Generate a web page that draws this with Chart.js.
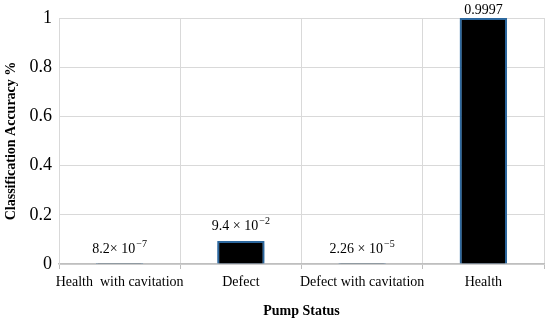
<!DOCTYPE html>
<html>
<head>
<meta charset="utf-8">
<script src="https://cdn.jsdelivr.net/npm/chart.js@4/dist/chart.umd.min.js"></script>
<style>
  html, body { margin: 0; padding: 0; background: #fff; }
  #wrap { width: 550px; height: 324px; }
</style>
</head>
<body>
<div id="wrap"><canvas id="chart"></canvas></div>
<script>
// data
const categories = ['Health  with cavitation', 'Defect', 'Defect with cavitation', 'Health'];
const accuracy = [8.2e-7, 0.094, 2.26e-5, 0.9997];
const labelBase = ['8.2\u00d7 10', '9.4 \u00d7 10', '2.26 \u00d7 10', '0.9997'];
const labelExp = ['\u22127', '\u22122', '\u22125', ''];
const yTicks = [0, 0.2, 0.4, 0.6, 0.8, 1];

const serif = '"Liberation Serif", "DejaVu Serif", serif';

// value labels with superscript exponent
const valueLabels = {
  id: 'valueLabels',
  afterDatasetsDraw(chart) {
    let ctx = chart.ctx;
    let meta = chart.getDatasetMeta(0);
    ctx.save();
    ctx.fillStyle = '#000';
    ctx.textBaseline = 'middle';
    meta.data.forEach((bar, i) => {
      let base = labelBase[i], exp = labelExp[i];
      let y = Math.max(bar.y - 15, 10);
      ctx.font = '14px ' + serif;
      let w1 = ctx.measureText(base).width;
      ctx.font = '10px ' + serif;
      let w2 = exp ? ctx.measureText(exp).width + 1 : 0;
      let x = bar.x - (w1 + w2) / 2;
      ctx.textAlign = 'left';
      ctx.font = '14px ' + serif;
      ctx.fillText(base, x, y);
      if (exp) {
        ctx.font = '10px ' + serif;
        ctx.fillText(exp, x + w1 + 1, y - 5);
      }
    });
    ctx.restore();
  }
};

// soft blue edge around the black bars
const barGlow = {
  id: 'barGlow',
  beforeDatasetsDraw(chart) {
    chart.ctx.save();
    chart.ctx.shadowColor = 'rgba(40, 100, 160, 0.9)';
    chart.ctx.shadowBlur = 5;
  },
  afterDatasetsDraw(chart) {
    chart.ctx.restore();
  }
};

new Chart(document.getElementById('chart'), {
  type: 'bar',
  data: {
    labels: categories,
    datasets: [{
      data: accuracy,
      backgroundColor: '#000',
      borderColor: '#2f6a9e',
      borderWidth: 2,
      barPercentage: 0.39,
      categoryPercentage: 1
    }]
  },
  options: {
    responsive: true,
    maintainAspectRatio: false,
    animation: false,
    layout: { padding: { top: 18, right: 6, left: 3, bottom: 0 } },
    plugins: {
      legend: { display: false },
      tooltip: { enabled: false }
    },
    scales: {
      x: {
        grid: { color: '#d9d9d9', tickLength: 5, tickColor: '#bfbfbf', offset: true },
        border: { color: '#bfbfbf', width: 1.5 },
        ticks: { color: '#000', font: { family: serif, size: 14 }, padding: 5, maxRotation: 0, autoSkip: false },
        title: { display: true, text: 'Pump Status', color: '#000', font: { family: serif, size: 14, weight: 'bold' }, padding: { top: 4 } },
        afterFit(scale) { scale.height = 60; }
      },
      y: {
        min: 0,
        max: 1,
        afterBuildTicks(scale) { scale.ticks = yTicks.map(v => ({ value: v })); },
        grid: { color: '#d9d9d9', drawTicks: false },
        border: { color: '#d9d9d9' },
        ticks: { color: '#000', font: { family: serif, size: 18 }, padding: 7, callback: v => String(v) },
        title: { display: true, text: 'Classification Accuracy %', color: '#000', font: { family: serif, size: 14, weight: 'bold' }, padding: 0 },
        afterFit(scale) { scale.width = 56; }
      }
    }
  },
  plugins: [barGlow, valueLabels]
});
</script>
</body>
</html>
